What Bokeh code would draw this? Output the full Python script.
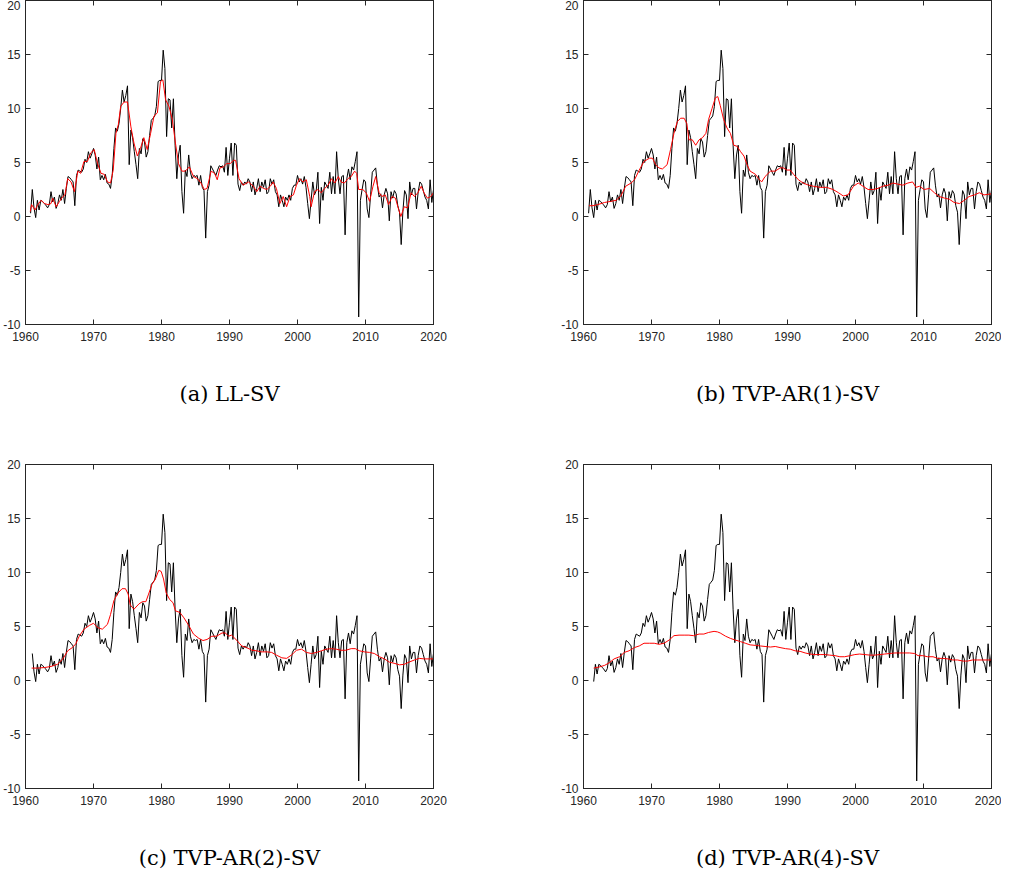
from bokeh.plotting import figure
from bokeh.layouts import gridplot
from bokeh.models import LinearAxis, FixedTicker, Range1d
from bokeh.embed import file_html
from bokeh.resources import INLINE

# ---------------- data: quarterly inflation (black) -------------
infl_1960s_start = 1960.75
infl_1960s = [0.3, 2.5, 0.8, -0.1, 1.5, 0.6, 1.5, 1.4, 1.2, 1.05, 0.8, 1.1, 2.3, 1.35,
              1.8, 0.75, 1.2, 2.0, 1.5, 2.5, 1.2, 2.6, 3.7, 3.6, 3.4, 3.2, 1.0, 3.8,
              4.3, 4.2, 4.1, 4.4, 5.3, 5.0, 6.0, 5.4, 5.8]
infl_1970s_start = 1970.0
infl_1970s = [6.3, 5.7, 4.4, 5.5, 3.4, 3.8, 3.4, 3.9, 3.1, 3.0, 2.6, 3.8, 6.3, 8.2,
              7.9, 8.6, 10.0, 11.7, 10.6, 11.2, 12.1, 4.8, 8.0, 7.3, 6.0, 4.8, 3.5,
              6.3, 5.8, 7.2, 6.9, 5.5, 6.0, 7.5, 8.9, 9.1, 9.3, 10.2, 12.5, 12.6]
infl_1980s_start = 1980.0
infl_1980s = [12.6, 15.4, 13.7, 7.4, 10.9, 10.8, 8.2, 10.9, 6.6, 3.5, 5.7, 6.6, 2.3,
              0.3, 4.3, 3.7, 5.7, 4.1, 3.5, 3.8, 3.7, 3.8, 2.9, 3.8, 2.7, 2.4, -2.0,
              2.3, 2.9, 4.7, 4.4, 4.1, 3.8, 4.3, 4.7, 4.6, 4.7, 4.1, 6.4, 3.8]
infl_1990s_start = 1990.0
infl_1990s = [5.4, 6.8, 3.8, 6.8, 6.6, 3.0, 2.4, 3.2, 2.9, 3.2, 3.0, 3.5, 3.2, 2.3,
              3.2, 2.0, 2.6, 3.5, 2.3, 3.2, 2.7, 3.4, 2.1, 2.3, 3.5, 3.0, 3.4, 2.3,
              2.0, 0.9, 2.0, 1.5, 0.9, 1.8, 1.5, 2.0, 1.5, 2.6, 2.9, 2.9]
infl_2000s_start = 2000.0
infl_2000s = [3.8, 3.2, 3.5, 3.0, 3.7, 2.7, 1.2, -0.2, 1.5, 3.2, 2.0, 2.4, 4.1, -0.65,
              2.7, 1.5, 3.2, 2.9, 2.6, 4.1, 2.1, 3.7, 2.1, 6.0, 3.5, 2.1, 3.7, 3.8,
              -1.7, 3.5, 4.4, 3.4, 4.6, 4.3, 5.1, 6.0, -9.3, 1.5, 2.5, 3.4]
infl_2010s_start = 2010.0
infl_2010s = [3.2, 0.7, -0.1, 2.0, 4.1, 4.3, 4.5, 2.9, 1.8, 2.1, 0.8, 2.0, 2.6, 2.1,
              -0.4, 2.3, 1.7, 2.4, 2.1, 1.0, 0.4, -2.6, 0.5, 2.4, 2.0, -0.2, 3.2, 2.0,
              2.6, 2.6, 0.7, 2.3, 3.2, 3.0, 2.4, 1.8, 1.5, 0.7, 3.4, 1.3, 2.5]

# first observation shown in each panel (index into the quarterly series)
first_obs = {"a": 0, "b": 0, "c": 1, "d": 3}

# ---------------- red trend estimates ----------------
ll_years = [1960.7, 1960.9, 1961.4, 1961.8, 1962.3, 1962.8, 1963.3, 1963.75, 1964.0, 1964.5,
            1965.0, 1965.5, 1965.8, 1966.2, 1966.7, 1967.2, 1967.7, 1968.1, 1968.6, 1969.1,
            1969.6, 1970.1, 1970.6, 1971.1, 1971.6, 1972.05, 1972.5, 1972.9, 1973.3, 1973.65,
            1974.0, 1974.5, 1975.0, 1975.5, 1975.95, 1976.45, 1976.9, 1977.4, 1977.9, 1978.4,
            1978.9, 1979.4, 1979.85, 1980.2, 1980.6, 1981.1, 1981.6, 1982.05, 1982.5, 1983.0,
            1983.5, 1984.1, 1984.7, 1985.3, 1985.8, 1986.3, 1986.7, 1987.3, 1987.8, 1988.2,
            1988.6, 1989.1, 1989.6, 1990.1, 1990.6, 1990.9, 1991.4, 1992.0, 1992.8, 1993.5,
            1994.0, 1994.5, 1995.0, 1995.5, 1996.0, 1996.4, 1996.9, 1997.4, 1997.9, 1998.4,
            1998.9, 1999.4, 1999.85, 2000.3, 2000.8, 2001.3, 2001.8, 2002.0, 2002.5, 2003.0,
            2003.5, 2004.0, 2004.5, 2005.0, 2005.5, 2006.0, 2006.4, 2006.9, 2007.4, 2007.9,
            2008.4, 2008.7, 2009.0, 2009.6, 2010.1, 2010.6, 2011.1, 2011.5, 2012.0, 2012.4,
            2012.9, 2013.4, 2013.9, 2014.4, 2014.9, 2015.2, 2015.7, 2016.2, 2016.7, 2017.2,
            2017.7, 2018.2, 2018.6, 2019.1, 2019.6, 2020.0]
ll_vals = [0.46, 1.1, 0.6, 1.1, 1.5, 1.2, 1.1, 1.2, 1.7, 0.9,
           1.4, 1.85, 2.0, 3.5, 3.2, 2.3, 4.2, 4.0, 5.1, 5.1,
           5.9, 6.2, 4.9, 4.0, 3.9, 3.2, 3.1, 4.3, 7.7, 8.5,
           10.2, 10.6, 10.6, 8.3, 6.8, 5.6, 6.3, 7.3, 6.2, 7.7,
           9.3, 9.6, 12.5, 12.65, 10.8, 10.2, 8.95, 6.8, 4.9, 4.2,
           4.2, 4.6, 3.7, 3.5, 3.1, 2.5, 2.6, 4.2, 4.0, 3.4,
           4.5, 4.6, 4.9, 4.9, 5.2, 5.2, 3.5, 2.9, 3.2, 2.8,
           2.3, 2.8, 2.6, 2.5, 2.8, 3.2, 2.6, 1.2, 1.85, 0.9,
           1.85, 2.0, 2.9, 3.5, 3.2, 3.4, 1.85, 0.9, 2.3, 2.5,
           2.2, 2.6, 2.9, 3.5, 3.1, 3.7, 3.2, 3.1, 3.5, 3.7,
           4.2, 4.0, 2.5, 2.5, 2.2, 1.4, 2.8, 3.7, 2.2, 1.85,
           2.0, 1.1, 1.85, 1.7, 0.6, 0.0, 0.9, 0.8, 2.2, 1.85,
           2.2, 2.8, 2.2, 1.7, 1.85, 2.2]

ar1_years = [1960.8, 1961.4, 1962.1, 1963.1, 1964.0, 1964.8, 1965.5, 1966.2, 1967.0, 1967.5,
             1968.2, 1968.9, 1969.7, 1970.15, 1970.6, 1971.1, 1971.6, 1972.3, 1972.8, 1973.3,
             1973.8, 1974.3, 1974.8, 1975.2, 1975.5, 1976.0, 1976.5, 1977.0, 1977.5, 1978.0,
             1978.4, 1978.9, 1979.4, 1979.75, 1980.1, 1980.6, 1981.1, 1981.6, 1982.1, 1982.6,
             1983.1, 1983.6, 1984.05, 1984.5, 1985.3, 1985.75, 1986.2, 1986.7, 1987.5, 1988.2,
             1988.9, 1989.4, 1989.9, 1990.4, 1990.9, 1991.6, 1992.3, 1993.1, 1993.8, 1994.8,
             1995.75, 1996.7, 1997.5, 1998.2, 1998.9, 1999.7, 2000.4, 2001.1, 2001.85, 2002.6,
             2003.3, 2004.0, 2004.8, 2005.5, 2006.2, 2006.95, 2007.7, 2008.4, 2008.9, 2009.4,
             2010.1, 2010.9, 2011.6, 2012.3, 2013.1, 2013.8, 2014.5, 2015.3, 2016.0, 2016.7,
             2017.5, 2018.2, 2018.9, 2020.0]
ar1_vals = [1.0, 1.0, 1.1, 1.3, 1.4, 1.5, 1.9, 2.8, 3.1, 3.4,
            4.3, 5.1, 5.4, 5.4, 4.8, 4.5, 4.4, 4.8, 6.2, 7.7,
            8.8, 9.1, 9.1, 8.6, 7.1, 7.1, 6.6, 7.1, 7.3, 7.7,
            9.0, 10.0, 11.0, 11.1, 10.3, 9.0, 8.2, 7.7, 6.6, 6.5,
            6.0, 5.6, 4.8, 4.2, 3.9, 3.5, 3.2, 3.7, 4.2, 4.2,
            4.5, 4.5, 4.3, 4.3, 3.9, 3.4, 3.1, 2.9, 2.8, 2.7,
            2.7, 2.5, 2.2, 1.9, 2.0, 2.8, 3.1, 2.8, 2.5, 2.5,
            2.6, 2.8, 2.9, 3.1, 3.0, 2.9, 3.1, 3.2, 2.7, 2.8,
            2.5, 2.6, 2.2, 1.85, 1.7, 1.6, 1.3, 1.2, 1.5, 1.85,
            2.0, 2.2, 2.0, 2.1]

ar2_years = [1960.9, 1961.8, 1962.8, 1963.75, 1964.7, 1965.5, 1966.2, 1966.9, 1967.4, 1967.9,
             1968.6, 1969.4, 1970.0, 1970.6, 1971.3, 1972.05, 1972.5, 1973.0, 1973.6, 1974.2,
             1974.7, 1975.1, 1975.4, 1975.95, 1976.7, 1977.2, 1977.7, 1978.1, 1978.6, 1979.1,
             1979.6, 1979.95, 1980.3, 1980.7, 1981.2, 1981.7, 1982.05, 1982.7, 1983.3, 1984.0,
             1984.7, 1985.5, 1986.1, 1986.7, 1987.4, 1988.1, 1988.9, 1989.4, 1989.85, 1990.3,
             1991.1, 1991.8, 1992.5, 1993.3, 1994.0, 1994.7, 1995.5, 1996.2, 1996.9, 1997.7,
             1998.4, 1999.1, 1999.85, 2000.6, 2001.3, 2002.05, 2002.8, 2003.5, 2004.25, 2005.0,
             2005.7, 2006.4, 2007.1, 2007.9, 2008.5, 2009.1, 2009.85, 2010.6, 2011.3, 2012.05,
             2012.8, 2013.5, 2014.2, 2015.0, 2015.7, 2016.4, 2017.2, 2017.9, 2018.6, 2019.4,
             2020.0]
ar2_vals = [1.15, 1.15, 1.2, 1.3, 1.5, 2.0, 2.75, 3.05, 3.4, 4.1,
            4.75, 5.1, 5.3, 4.9, 4.75, 5.2, 6.1, 7.4, 8.1, 8.5,
            8.5, 8.0, 7.0, 6.6, 7.1, 7.3, 7.3, 8.0, 8.9, 9.4,
            10.2, 10.1, 9.4, 8.1, 7.5, 7.2, 6.45, 6.3, 5.8, 5.1,
            4.3, 3.9, 3.7, 3.8, 4.1, 4.1, 4.4, 4.4, 4.1, 4.2,
            3.7, 3.2, 3.05, 2.8, 2.75, 2.65, 2.65, 2.6, 2.35, 2.1,
            2.05, 2.35, 2.8, 2.9, 2.6, 2.5, 2.6, 2.75, 2.9, 2.95,
            2.9, 2.8, 2.8, 2.95, 2.95, 2.75, 2.65, 2.6, 2.5, 2.2,
            2.0, 1.7, 1.6, 1.45, 1.5, 1.7, 1.9, 2.05, 2.0, 2.0,
            2.0]

ar4_years = [1961.5, 1962.3, 1963.1, 1963.8, 1964.5, 1965.3, 1966.0, 1966.7, 1967.5, 1968.2,
             1968.9, 1969.7, 1970.4, 1971.1, 1971.85, 1972.6, 1973.3, 1974.05, 1974.8, 1975.5,
             1976.2, 1977.0, 1977.7, 1978.4, 1979.2, 1979.7, 1980.1, 1980.9, 1981.6, 1982.3,
             1983.1, 1983.8, 1984.5, 1985.3, 1986.0, 1986.7, 1987.5, 1988.2, 1988.9, 1989.7,
             1990.4, 1991.1, 1991.85, 1992.6, 1993.3, 1994.05, 1994.8, 1995.5, 1996.2, 1997.0,
             1997.7, 1998.4, 1999.2, 1999.9, 2000.6, 2001.4, 2002.1, 2002.8, 2003.6, 2004.3,
             2005.0, 2005.8, 2006.5, 2007.2, 2007.95, 2008.7, 2009.2, 2009.9, 2010.6, 2011.4,
             2012.1, 2012.8, 2013.6, 2014.3, 2015.0, 2015.8, 2016.5, 2017.2, 2017.95, 2018.7,
             2019.4, 2020.0]
ar4_vals = [1.15, 1.25, 1.4, 1.65, 2.0, 2.2, 2.6, 2.75, 3.05, 3.2,
            3.45, 3.45, 3.45, 3.35, 3.45, 3.75, 4.15, 4.2, 4.2, 4.2,
            4.15, 4.3, 4.3, 4.45, 4.55, 4.5, 4.4, 4.1, 3.9, 3.75,
            3.6, 3.45, 3.3, 3.25, 3.2, 3.15, 3.1, 3.15, 3.05, 2.95,
            2.9, 2.75, 2.7, 2.55, 2.45, 2.4, 2.4, 2.4, 2.35, 2.3,
            2.2, 2.2, 2.3, 2.4, 2.45, 2.4, 2.35, 2.35, 2.4, 2.45,
            2.5, 2.55, 2.55, 2.55, 2.55, 2.5, 2.3, 2.3, 2.2, 2.2,
            2.05, 2.05, 2.0, 1.9, 1.9, 1.8, 1.8, 1.9, 1.9, 1.9,
            1.9, 1.9]

captions = ["(a) LL-SV", "(b) TVP-AR(1)-SV", "(c) TVP-AR(2)-SV", "(d) TVP-AR(4)-SV"]
x_ticks = [1960, 1970, 1980, 1990, 2000, 2010, 2020]
y_ticks = [-10, -5, 0, 5, 10, 15, 20]
y_tick_text = {-10: "-10", -5: "-5"}

# ---------------- build series ----------------
def quarters(start, vals):
    return [start + 0.25 * i for i in range(len(vals))]

infl_x = (quarters(infl_1960s_start, infl_1960s) + quarters(infl_1970s_start, infl_1970s)
          + quarters(infl_1980s_start, infl_1980s) + quarters(infl_1990s_start, infl_1990s)
          + quarters(infl_2000s_start, infl_2000s) + quarters(infl_2010s_start, infl_2010s))
infl_y = infl_1960s + infl_1970s + infl_1980s + infl_1990s + infl_2000s + infl_2010s

AX = "#262626"


def style_axis(ax, labels):
    ax.axis_line_color = AX
    ax.axis_line_width = 1
    ax.major_tick_line_color = AX
    ax.major_tick_in = 5
    ax.major_tick_out = 0
    ax.minor_tick_line_color = None
    ax.major_label_text_font = "Liberation Sans"
    ax.major_label_text_font_size = "12px"
    if labels:
        ax.major_label_text_color = AX
    else:
        ax.major_label_text_color = None
        ax.major_label_standoff = 0


def panel(key, red_x, red_y, caption, width, height, mb_left, mb_right, mb_top, mb_bottom, cap_off):
    p = figure(width=width, height=height, output_backend="svg", toolbar_location=None,
               x_range=Range1d(1960, 2020), y_range=Range1d(-10, 20),
               min_border_left=mb_left, min_border_right=mb_right,
               min_border_top=mb_top, min_border_bottom=mb_bottom,
               background_fill_color="white", border_fill_color="white")
    p.xgrid.visible = False
    p.ygrid.visible = False
    p.outline_line_color = AX
    p.add_layout(LinearAxis(), "above")
    p.add_layout(LinearAxis(), "right")
    for ax in p.xaxis:
        ax.ticker = FixedTicker(ticks=x_ticks)
    for ax in p.yaxis:
        ax.ticker = FixedTicker(ticks=y_ticks)
    style_axis(p.below[0], True)
    style_axis(p.left[0], True)
    style_axis(p.above[0], False)
    style_axis(p.right[0], False)
    xb = p.below[0]
    xb.major_label_standoff = 7
    p.left[0].major_label_standoff = 5
    p.left[0].major_label_overrides = y_tick_text
    # caption of the sub-figure, drawn as the x axis label
    xb.axis_label = caption
    xb.axis_label_text_font = "DejaVu Serif"
    xb.axis_label_text_font_style = "normal"
    xb.axis_label_text_font_size = "21px"
    xb.axis_label_text_color = "black"
    xb.axis_label_standoff = cap_off

    i0 = first_obs[key]
    p.line(infl_x[i0:], infl_y[i0:], line_color="black", line_width=1.0)
    p.line(red_x, red_y, line_color="#ff0000", line_width=1.0)
    return p


pa = panel("a", ll_years, ll_vals, captions[0], 558, 454, 23, 125, 0, 130, 38)
pb = panel("b", ar1_years, ar1_vals, captions[1], 443, 454, 23, 10, 0, 130, 38)
pc = panel("c", ar2_years, ar2_vals, captions[2], 558, 418, 23, 125, 10, 84, 38)
pd = panel("d", ar4_years, ar4_vals, captions[3], 443, 418, 23, 10, 10, 84, 38)

grid = gridplot([[pa, pb], [pc, pd]], toolbar_location=None)

open("out.html", "w").write(file_html(grid, INLINE))
